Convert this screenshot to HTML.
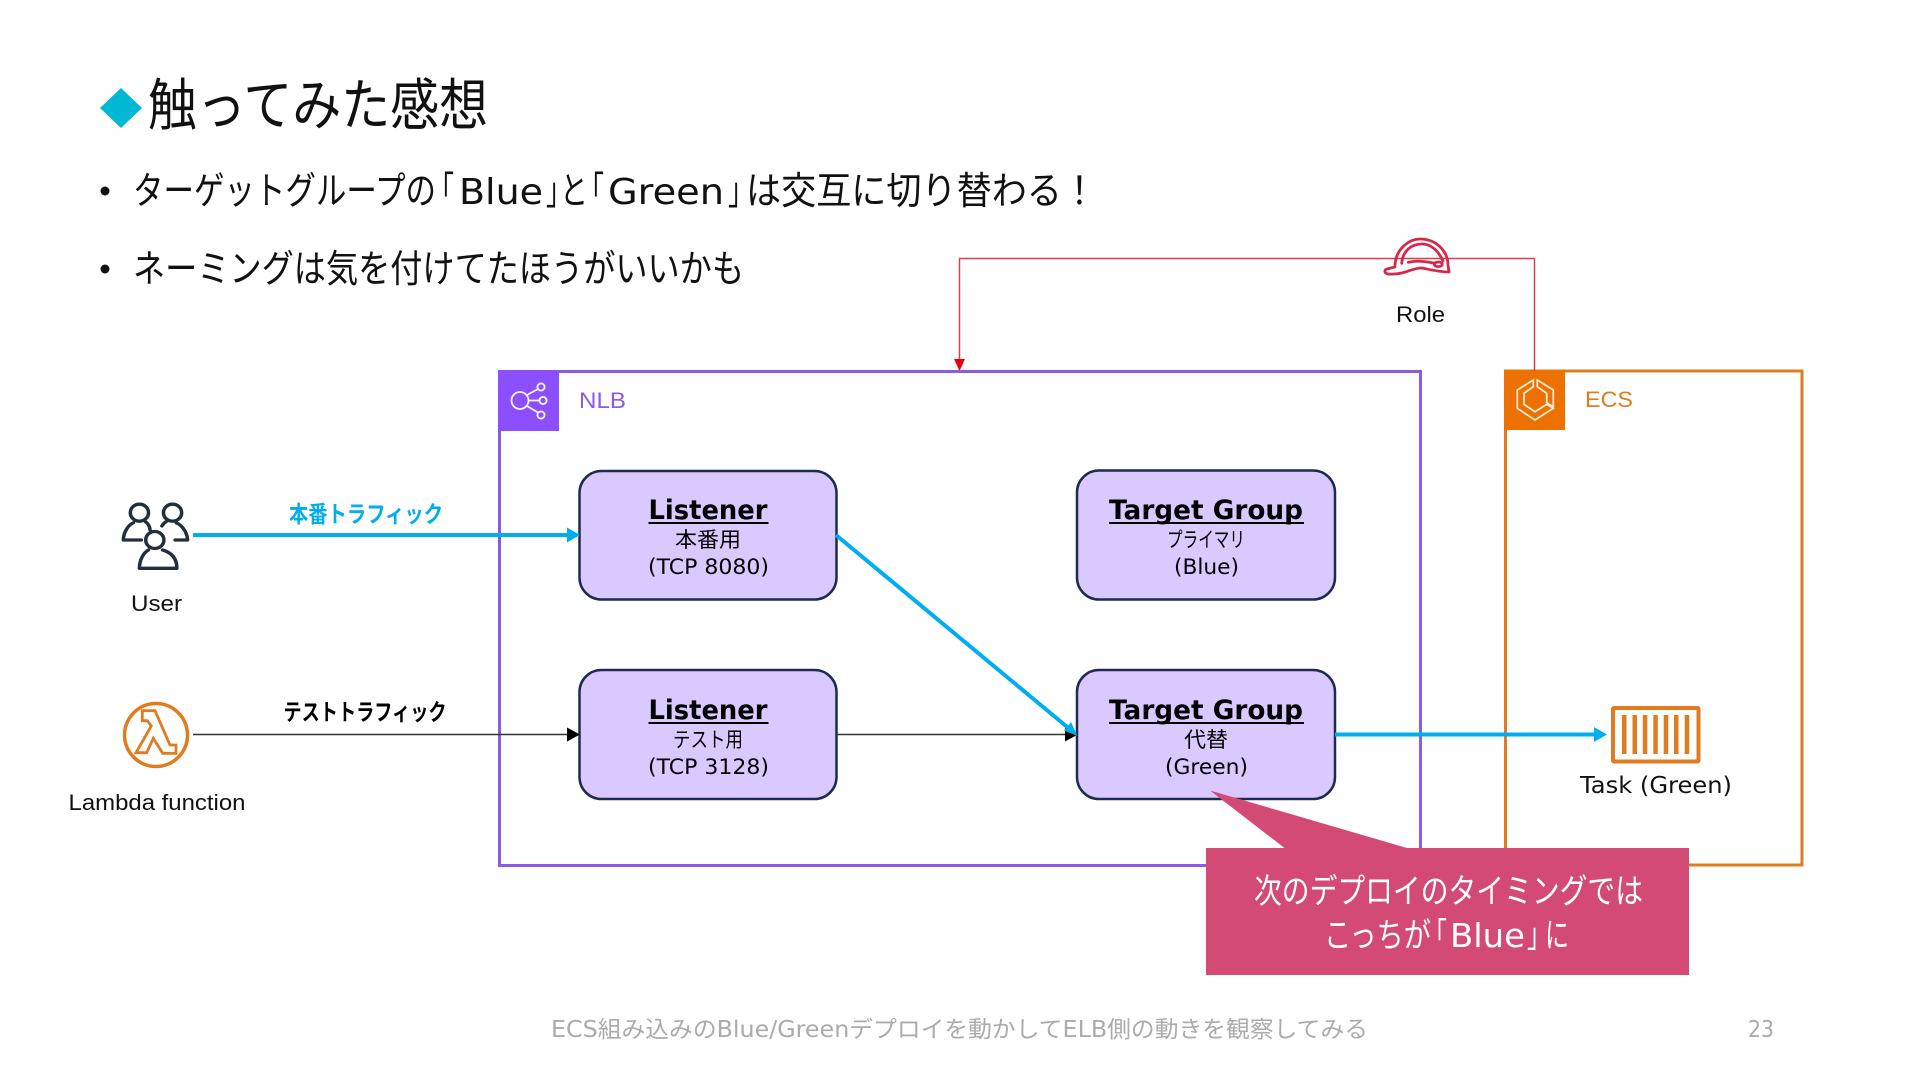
<!DOCTYPE html>
<html lang="ja"><head><meta charset="utf-8"><title>触ってみた感想</title>
<style>
html,body{margin:0;padding:0;background:#fff;width:1920px;height:1080px;overflow:hidden}
svg{display:block}
text{font-family:"Liberation Sans","Noto Sans CJK JP",sans-serif}
.d{font-family:"DejaVu Sans","Noto Sans CJK JP",sans-serif}
.m{text-anchor:middle}
</style></head><body>
<svg width="1920" height="1080" viewBox="0 0 1920 1080" xmlns="http://www.w3.org/2000/svg">
<rect width="1920" height="1080" fill="#fff"/>
<polygon points="100,108 121,88 142,108 121,128" fill="#00B8D4"/>
<text x="148" y="125" font-size="56" textLength="340" lengthAdjust="spacingAndGlyphs" fill="#111">触ってみた感想</text>
<circle cx="105" cy="191" r="4.5" fill="#111"/>
<circle cx="105" cy="269" r="4.5" fill="#111"/>

<!-- Bullet 1, split so the Latin words and CJK runs keep their own widths -->
<g font-size="38" fill="#111">
<text x="133" y="204" textLength="303" lengthAdjust="spacingAndGlyphs">ターゲットグループの</text>
<text x="428" y="204" textLength="26" lengthAdjust="spacingAndGlyphs">「</text>
<text class="d" x="459" y="204" font-size="36" textLength="84" lengthAdjust="spacingAndGlyphs">Blue</text>
<text x="546" y="204" textLength="26" lengthAdjust="spacingAndGlyphs">」</text>
<text x="560" y="204" textLength="28" lengthAdjust="spacingAndGlyphs">と</text>
<text x="578" y="204" textLength="26" lengthAdjust="spacingAndGlyphs">「</text>
<text class="d" x="608" y="204" font-size="36" textLength="116" lengthAdjust="spacingAndGlyphs">Green</text>
<text x="728" y="204" textLength="26" lengthAdjust="spacingAndGlyphs">」</text>
<text x="746" y="204" textLength="351" lengthAdjust="spacingAndGlyphs">は交互に切り替わる！</text>
<text x="133" y="282" textLength="611" lengthAdjust="spacingAndGlyphs">ネーミングは気を付けてたほうがいいかも</text>
</g>

<!-- NLB -->
<rect x="499.500" y="371.500" width="921" height="494" fill="none" stroke="#8C5BE0" stroke-width="3"/>
<rect x="498" y="370" width="61" height="61" fill="#8C4FFF"/>
<g fill="none" stroke="#fff" stroke-width="1.800" opacity=".95">
<circle cx="520" cy="400.500" r="8.500"/><circle cx="541" cy="387" r="3.600"/><circle cx="543" cy="400.500" r="3.600"/><circle cx="541" cy="415" r="3.600"/>
<path d="M527 395l11-6M528.500 400.500h11M527 406l11 6.500"/>
</g>
<text x="579" y="408" font-size="22" textLength="47" lengthAdjust="spacingAndGlyphs" fill="#8C5BE0">NLB</text>

<!-- ECS -->
<rect x="1505.500" y="371" width="296.500" height="494" fill="none" stroke="#E07B1F" stroke-width="3"/>
<rect x="1504" y="370" width="61" height="60" fill="#ED7100"/>
<g fill="none" stroke="#FFEFD9" stroke-width="1.700">
<path d="M1533.300 380L1517.300 390V408.300L1535 420L1553.300 408.300L1546.700 404.300L1535 411.700L1524 404.300V393.300L1533.300 386.700Z"/>
<path d="M1537.300 380L1553.300 390V406.700L1546.700 402.700V393.300L1537.300 386.700Z"/>
</g>
<text x="1585" y="407" font-size="22" textLength="48" lengthAdjust="spacingAndGlyphs" fill="#E07B1F">ECS</text>

<!-- Red role connector -->
<polyline points="1534.500,371 1534.500,258.500 959.500,258.500 959.500,364" fill="none" stroke="#D8404F" stroke-width="1.500"/>
<polygon points="954,359 965,359 959.500,371" fill="#E8000B"/>
<g fill="none" stroke="#D6294A" stroke-width="2.800" stroke-linejoin="round" stroke-linecap="round">
<path d="M1395 265C1396 248 1410 239 1420 239C1437 239 1448 252 1448 265L1449 272C1440 272 1432 270 1422 268C1410 268 1406 275 1388 274C1384 273 1384 270 1387 269L1395 267"/>
<path d="M1401.700 263.300C1403 250 1412 244 1422 244C1432 244 1439 252 1443 261"/>
<path d="M1408.300 262.300C1418 260 1428 262 1435 263.300"/>
<ellipse cx="1438.300" cy="264.300" rx="4" ry="2.300"/>
</g>
<text class="m" x="1420.500" y="322" font-size="22" textLength="49" lengthAdjust="spacingAndGlyphs" fill="#111">Role</text>

<!-- Boxes -->
<g fill="#DAC9FF" stroke="#1E2A4F" stroke-width="2.500">
<rect x="579.500" y="471" width="257" height="128.500" rx="22"/>
<rect x="579.500" y="670" width="257" height="129" rx="22"/>
<rect x="1077" y="470.500" width="258" height="129" rx="22"/>
<rect x="1077" y="670" width="258" height="129" rx="22"/>
</g>

<!-- Box text -->
<g fill="#000">
<text class="d" x="648.500" y="519" font-size="27" font-weight="700" textLength="119" lengthAdjust="spacingAndGlyphs">Listener</text>
<rect x="648.500" y="522" width="120" height="2"/>
<text class="m" x="708" y="547" font-size="21" textLength="66" lengthAdjust="spacingAndGlyphs">本番用</text>
<text class="d" x="648" y="574" font-size="21" textLength="121" lengthAdjust="spacingAndGlyphs">(TCP 8080)</text>

<text class="d" x="648.500" y="719" font-size="27" font-weight="700" textLength="119" lengthAdjust="spacingAndGlyphs">Listener</text>
<rect x="648.500" y="722" width="120" height="2"/>
<text x="673" y="747" font-size="21" textLength="70" lengthAdjust="spacingAndGlyphs">テスト用</text>
<text class="d" x="648" y="774" font-size="21" textLength="121" lengthAdjust="spacingAndGlyphs">(TCP 3128)</text>

<text class="d" x="1109" y="519" font-size="27" font-weight="700" textLength="194" lengthAdjust="spacingAndGlyphs">Target Group</text>
<rect x="1109" y="522" width="195" height="2"/>
<text x="1167" y="547" font-size="21" textLength="78" lengthAdjust="spacingAndGlyphs">プライマリ</text>
<text class="d" x="1174" y="574" font-size="21" textLength="65" lengthAdjust="spacingAndGlyphs">(Blue)</text>

<text class="d" x="1109" y="719" font-size="27" font-weight="700" textLength="194" lengthAdjust="spacingAndGlyphs">Target Group</text>
<rect x="1109" y="722" width="195" height="2"/>
<text x="1184" y="747" font-size="21" textLength="44" lengthAdjust="spacingAndGlyphs">代替</text>
<text class="d" x="1165" y="774" font-size="21" textLength="83" lengthAdjust="spacingAndGlyphs">(Green)</text>
</g>

<!-- Connectors -->
<line x1="193" y1="535" x2="570" y2="535" stroke="#00AEEF" stroke-width="4"/>
<polygon points="567,527.500 580,535 567,542.500" fill="#00AEEF"/>
<text x="289" y="522" font-size="23" font-weight="700" textLength="154" lengthAdjust="spacingAndGlyphs" fill="#00AEEF">本番トラフィック</text>

<line x1="193" y1="734.500" x2="570" y2="734.500" stroke="#333" stroke-width="1.500"/>
<polygon points="567,727.500 580,734.500 567,741.500" fill="#000"/>
<text x="283.500" y="720" font-size="23" font-weight="700" textLength="163" lengthAdjust="spacingAndGlyphs" fill="#000">テストトラフィック</text>

<line x1="836" y1="734.500" x2="1067" y2="734.500" stroke="#333" stroke-width="1.500"/>
<polygon points="1065,727.500 1078,734.500 1065,741.500" fill="#000"/>
<line x1="836" y1="535" x2="1072" y2="731" stroke="#00AEEF" stroke-width="4"/>
<polygon points="1077.500,736 1064,730.500 1071,722" fill="#00AEEF"/>

<line x1="1335" y1="734.500" x2="1597" y2="734.500" stroke="#00AEEF" stroke-width="4"/>
<polygon points="1594,727 1607,734.500 1594,742" fill="#00AEEF"/>

<!-- User icon -->
<g transform="translate(122.500 0) scale(1.070 1) translate(-122.500 0)" fill="none" stroke="#232F3E" stroke-width="3.300" stroke-linecap="round" stroke-linejoin="round">
<circle cx="138.300" cy="512.700" r="8.500"/>
<circle cx="169.300" cy="512.700" r="8.500"/>
<circle cx="152.700" cy="540" r="8.500"/>
<path d="M132.700 522.700C126 526 123.300 535 123.300 540H140"/>
<path d="M172.700 522.700C180 526 183.300 535 183.300 540H171.700"/>
<path d="M144 521.700C147 524 148 527 148.300 530"/>
<path d="M163.300 521.700Q161 523 159.300 526"/>
<path d="M146.700 550C142 553 138.300 560 138.300 568.300H173.300C173.300 560 170 553 160 550"/>
</g>
<text class="m" x="156.500" y="611" font-size="22" textLength="51" lengthAdjust="spacingAndGlyphs" fill="#111">User</text>

<!-- Lambda icon -->
<circle cx="156" cy="735" r="31.500" fill="none" stroke="#E07B1F" stroke-width="3.500"/>
<path d="M142.300 710.700V720.700H147.300L151.300 726L136 752.700H146.700L153.300 738.300L162.700 753.300H176V745H170L155 710.700Z" fill="none" stroke="#E07B1F" stroke-width="2.800" stroke-linejoin="miter"/>
<text class="m" x="157" y="810" font-size="22" textLength="177" lengthAdjust="spacingAndGlyphs" fill="#111">Lambda function</text>

<!-- Task icon -->
<rect x="1613" y="708" width="85.500" height="53.500" rx="1" fill="none" stroke="#E07B1F" stroke-width="4"/>
<g fill="#E07B1F">
<rect x="1622" y="715" width="4.500" height="39"/><rect x="1632.500" y="715" width="4.500" height="39"/><rect x="1642.800" y="715" width="4.500" height="39"/><rect x="1653.300" y="715" width="4.500" height="39"/><rect x="1663.700" y="715" width="4.500" height="39"/><rect x="1674" y="715" width="4.500" height="39"/><rect x="1684.700" y="715" width="4.500" height="39"/>
</g>
<text x="1580" y="793" font-size="23" class="d" textLength="152" lengthAdjust="spacingAndGlyphs" fill="#111">Task (Green)</text>

<!-- Callout -->
<polygon points="1206,848 1284.500,848 1210,790.500 1407,848 1689,848 1689,975 1206,975" fill="#D34A74"/>
<g fill="#fff" font-size="34">
<text x="1254" y="903" textLength="389" lengthAdjust="spacingAndGlyphs">次のデプロイのタイミングでは</text>
<text x="1324" y="947" textLength="107" lengthAdjust="spacingAndGlyphs">こっちが</text>
<text x="1423" y="947" textLength="24" lengthAdjust="spacingAndGlyphs">「</text>
<text class="d" x="1450" y="947" font-size="33" textLength="75" lengthAdjust="spacingAndGlyphs">Blue</text>
<text x="1527" y="947" textLength="24" lengthAdjust="spacingAndGlyphs">」</text>
<text x="1545" y="947" textLength="24" lengthAdjust="spacingAndGlyphs">に</text>
</g>

<!-- Footer -->
<text class="d" x="551" y="1037" font-size="23" textLength="817" lengthAdjust="spacingAndGlyphs" fill="#ABABAB">ECS組み込みのBlue/Greenデプロイを動かしてELB側の動きを観察してみる</text>
<text class="d" x="1748" y="1037" font-size="23" textLength="26" lengthAdjust="spacingAndGlyphs" fill="#ABABAB">23</text>
</svg>
</body></html>
